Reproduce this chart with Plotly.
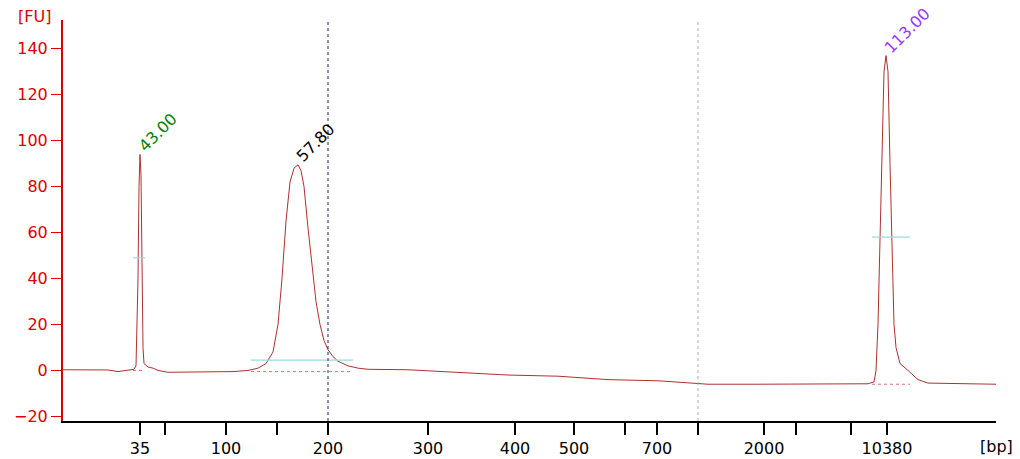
import plotly.graph_objects as go

# migration position (arbitrary units) and fluorescence
pos = [55,100,110,120,126,128,130,131,132,133,134,135,136,140,145,150,160,200,225,240,250,258,265,270,274,278,282,286,290,293,296,300,304,308,312,316,320,325,330,340,350,360,400,450,500,550,600,650,690,700,750,800,860,866,868,870,872,874,876,878,880,882,884,886,888,892,900,910,920,988]
fu  = [0.3,0.2,-0.5,0,0.5,2,40,80,94,85,50,10,3,1.5,1,0,-0.8,-0.8,-0.5,0,1,3,8,20,40,65,82,88,89.5,87,80,62,45,30,20,13,9,6,4,2,1,0.5,0.3,-1,-2,-2.5,-4,-4.5,-5.5,-6,-6,-6,-5.8,-5,0,20,60,100,130,137,130,90,50,20,10,3,0,-4,-5.5,-6]

tick_pos = [132,157,218,269,320,420,507,566,617,649,690,756,788,843,879]
tick_lab = ["35","","100","","200","300","400","500","","700","","2000","","","10380"]

peak_pos = [132,290,878]
peak_fu = [94,89.5,137]
peak_lab = ["43.00","57.80","113.00"]
peak_col = ["green","black","#9933ff"]

# peak windows: start, end, half height, baseline
win_start = [125,243,864]
win_end = [137,345,902]
win_half = [49,4.5,58]
win_base = [0,-0.5,-6]

fig = go.Figure()
fig.add_trace(go.Scatter(x=pos, y=fu, mode="lines", line=dict(color="#b03030", width=1), hoverinfo="skip"))
for s, e, h, b in zip(win_start, win_end, win_half, win_base):
    fig.add_trace(go.Scatter(x=[s, e], y=[h, h], mode="lines", line=dict(color="#9fd8d8", width=1.2)))
    fig.add_trace(go.Scatter(x=[s, e], y=[b, b], mode="lines", line=dict(color="#e07070", width=1, dash="dot")))
fig.add_shape(type="line", x0=320, x1=320, y0=0, y1=1, yref="paper", line=dict(color="#222266", width=1, dash="dot"))
fig.add_shape(type="line", x0=690, x1=690, y0=0, y1=1, yref="paper", line=dict(color="#aaaaaa", width=1, dash="dot"))
for x, y, t, c in zip(peak_pos, peak_fu, peak_lab, peak_col):
    fig.add_annotation(x=x, y=y, text=t, showarrow=False, textangle=-45, xanchor="left", yanchor="bottom",
                       xshift=-8, yshift=-4, font=dict(color=c, size=16, family="DejaVu Sans"))
fig.add_annotation(x=0, y=1.0, xref="paper", yref="paper", text="[FU]", showarrow=False, xanchor="right",
                   yanchor="middle", xshift=-10, yshift=4, font=dict(color="#dd0000", size=16, family="DejaVu Sans"))
fig.add_annotation(x=1, y=0, xref="paper", yref="paper", text="[bp]", showarrow=False, xanchor="left",
                   yanchor="top", xshift=-18, yshift=-14, font=dict(color="black", size=16, family="DejaVu Sans"))

fig.update_layout(width=1020, height=459, margin=dict(l=55, r=32, t=12, b=46), showlegend=False,
                  plot_bgcolor="white", paper_bgcolor="white", font=dict(family="DejaVu Sans", size=16))
fig.update_xaxes(range=[55, 988], tickvals=tick_pos, ticktext=tick_lab, ticks="outside", ticklen=12,
                 tickwidth=1.5, tickcolor="black", showline=True, linecolor="black", linewidth=2,
                 showgrid=False, zeroline=False, automargin=False, tickfont=dict(color="black", size=16))
fig.update_yaxes(range=[-22, 152.5], tickvals=[-20,0,20,40,60,80,100,120,140], ticks="outside", ticklen=10,
                 tickcolor="#dd0000", showline=True, linecolor="#dd0000", linewidth=2, showgrid=False,
                 zeroline=False, automargin=False, tickfont=dict(color="#dd0000", size=16))
fig.write_html("out.html")
